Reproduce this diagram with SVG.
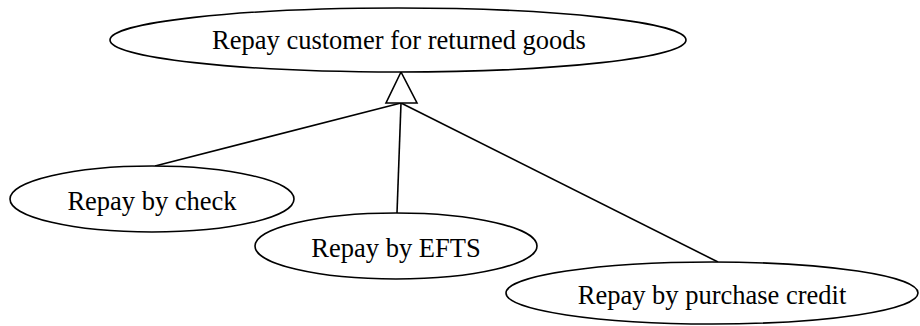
<svg xmlns="http://www.w3.org/2000/svg" width="920" height="326" viewBox="0 0 920 326">
<style>
.n ellipse{fill:#fff;stroke:#000;stroke-width:1.6}
.n text{font-family:"Liberation Serif","Times New Roman",serif;font-size:26.5px;fill:#000;text-anchor:middle}
.c line{stroke:#000;stroke-width:1.6}
.c polygon{fill:#fff;stroke:#000;stroke-width:1.6}
</style>
<rect width="920" height="326" fill="#fff"/>
<g class="c" id="connectors">
<line x1="401" y1="103" x2="155" y2="166"/>
<line x1="401" y1="103" x2="397" y2="213"/>
<line x1="401" y1="103" x2="718" y2="262"/>
<polygon points="401,72 386,103 417,103"/>
</g>
<g class="n" id="n_repay">
<ellipse cx="398" cy="40" rx="288" ry="32"/>
<text x="399" y="49">Repay customer for returned goods</text>
</g>
<g class="n" id="n_check">
<ellipse cx="152" cy="199" rx="142" ry="33"/>
<text x="152" y="210">Repay by check</text>
</g>
<g class="n" id="n_efts">
<ellipse cx="396" cy="246" rx="141" ry="33"/>
<text x="396" y="257">Repay by EFTS</text>
</g>
<g class="n" id="n_credit">
<ellipse cx="712" cy="293" rx="206" ry="31"/>
<text x="712" y="304">Repay by purchase credit</text>
</g>
</svg>
